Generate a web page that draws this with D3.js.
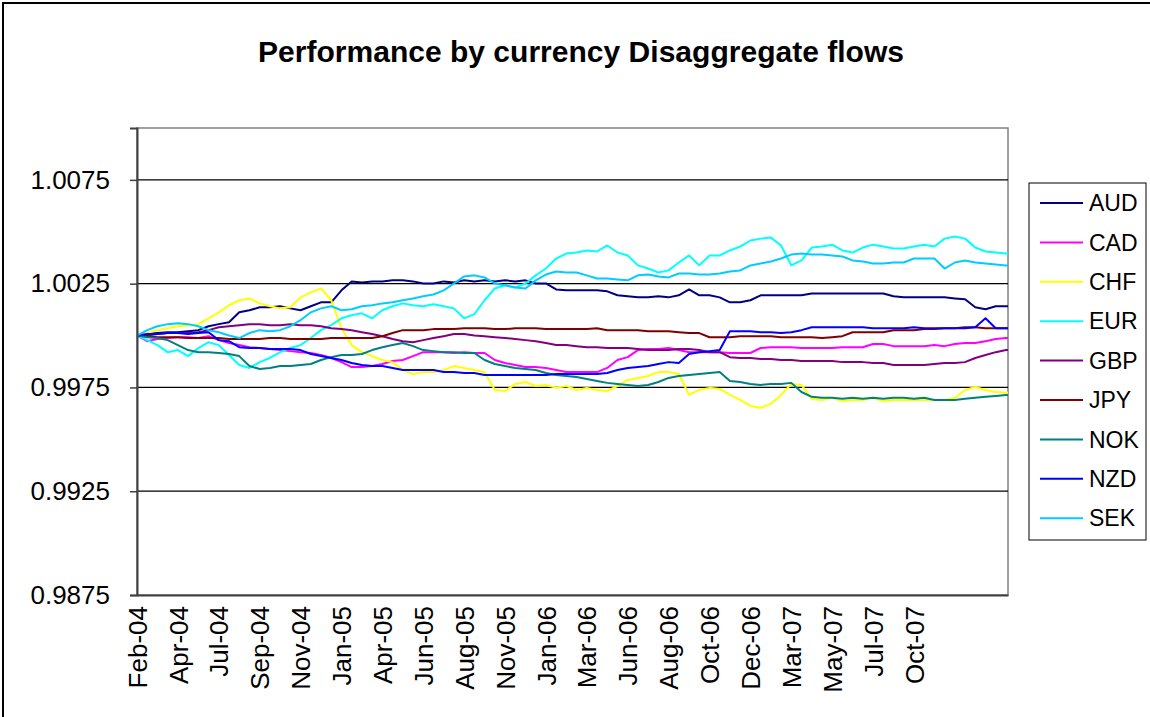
<!DOCTYPE html>
<html>
<head>
<meta charset="utf-8">
<script src="https://cdn.jsdelivr.net/npm/d3@7"></script>
<style>
	body { margin: 0; background: white; }
	text { font-family: "Liberation Sans", Arial, sans-serif; fill: black; }
</style>
</head>
<body>
<div id="plànol"></div>
<script>
var títol = 'Performance by currency Disaggregate flows';
var monedes = ['AUD', 'CAD', 'CHF', 'EUR', 'GBP', 'JPY', 'NOK', 'NZD', 'SEK'];
var colors = ['#000080', '#FF00FF', '#FFFF00', '#00FFFF', '#800080', '#800000', '#008080', '#0000FF', '#00CCFF'];
var etiquetesX = ['Feb-04', 'Apr-04', 'Jul-04', 'Sep-04', 'Nov-04', 'Jan-05', 'Apr-05', 'Jun-05', 'Aug-05', 'Nov-05',
	'Jan-06', 'Mar-06', 'Jun-06', 'Aug-06', 'Oct-06', 'Dec-06', 'Mar-07', 'May-07', 'Jul-07', 'Oct-07'];
var pasEtiqueta = 50; // dies hàbils entre etiquetes
var ticsY = [0.9875, 0.9925, 0.9975, 1.0025, 1.0075];
var recorregutY = [0.9875, 1.0100];
var últimDia = 1065;
var pasMostra = 12.5; // una lectura cada 12,5 dies hàbils, més l'últim dia

var aud = [1.00000, 1.00007, 1.00012, 1.00016, 1.00016, 1.00021, 1.00026, 1.00045, 1.00055, 1.00064,
	1.00112, 1.00122, 1.00136, 1.00136, 1.00141, 1.00131, 1.00122, 1.00141, 1.00160, 1.00160,
	1.00218, 1.00261, 1.00256, 1.00261, 1.00261, 1.00266, 1.00266, 1.00261, 1.00251, 1.00251,
	1.00261, 1.00256, 1.00266, 1.00261, 1.00266, 1.00261, 1.00266, 1.00261, 1.00266, 1.00251,
	1.00251, 1.00222, 1.00218, 1.00218, 1.00218, 1.00218, 1.00213, 1.00194, 1.00189, 1.00184,
	1.00184, 1.00189, 1.00184, 1.00194, 1.00222, 1.00194, 1.00194, 1.00184, 1.00160, 1.00160,
	1.00170, 1.00194, 1.00194, 1.00194, 1.00194, 1.00194, 1.00203, 1.00203, 1.00203, 1.00203,
	1.00203, 1.00203, 1.00203, 1.00203, 1.00189, 1.00184, 1.00184, 1.00184, 1.00184, 1.00184,
	1.00179, 1.00175, 1.00136, 1.00127, 1.00141, 1.00141, 1.00141];
var cad = [1.00000, 0.99973, 0.99983, 0.99988, 0.99992, 0.99992, 0.99988, 0.99997, 0.99978, 0.99964,
	0.99954, 0.99944, 0.99940, 0.99935, 0.99930, 0.99925, 0.99920, 0.99916, 0.99906, 0.99892,
	0.99872, 0.99848, 0.99848, 0.99853, 0.99863, 0.99877, 0.99882, 0.99901, 0.99920, 0.99920,
	0.99920, 0.99916, 0.99920, 0.99916, 0.99916, 0.99882, 0.99868, 0.99858, 0.99848, 0.99848,
	0.99844, 0.99834, 0.99824, 0.99824, 0.99824, 0.99824, 0.99844, 0.99882, 0.99896, 0.99930,
	0.99935, 0.99935, 0.99940, 0.99930, 0.99920, 0.99920, 0.99920, 0.99920, 0.99916, 0.99916,
	0.99916, 0.99940, 0.99944, 0.99944, 0.99944, 0.99940, 0.99940, 0.99940, 0.99940, 0.99944,
	0.99944, 0.99944, 0.99959, 0.99959, 0.99949, 0.99949, 0.99949, 0.99949, 0.99954, 0.99949,
	0.99959, 0.99964, 0.99964, 0.99973, 0.99983, 0.99988, 0.99988];
var chf = [1.00000, 1.00012, 1.00026, 1.00035, 1.00045, 1.00050, 1.00055, 1.00083, 1.00112, 1.00146,
	1.00170, 1.00179, 1.00155, 1.00141, 1.00131, 1.00136, 1.00184, 1.00208, 1.00227, 1.00170,
	1.00035, 0.99954, 0.99920, 0.99901, 0.99882, 0.99872, 0.99834, 0.99815, 0.99824, 0.99824,
	0.99834, 0.99853, 0.99844, 0.99834, 0.99824, 0.99738, 0.99733, 0.99767, 0.99776, 0.99757,
	0.99762, 0.99748, 0.99757, 0.99738, 0.99748, 0.99738, 0.99733, 0.99757, 0.99786, 0.99796,
	0.99805, 0.99824, 0.99824, 0.99815, 0.99714, 0.99738, 0.99748, 0.99743, 0.99714, 0.99690,
	0.99661, 0.99652, 0.99671, 0.99714, 0.99767, 0.99762, 0.99695, 0.99690, 0.99700, 0.99685,
	0.99690, 0.99690, 0.99700, 0.99685, 0.99690, 0.99690, 0.99690, 0.99690, 0.99690, 0.99690,
	0.99700, 0.99738, 0.99752, 0.99738, 0.99728, 0.99724, 0.99724];
var eur = [1.00000, 0.99978, 0.99954, 0.99920, 0.99930, 0.99901, 0.99940, 0.99968, 0.99954, 0.99906,
	0.99858, 0.99844, 0.99872, 0.99892, 0.99920, 0.99940, 0.99954, 0.99988, 1.00026, 1.00050,
	1.00083, 1.00098, 1.00107, 1.00083, 1.00122, 1.00141, 1.00155, 1.00146, 1.00141, 1.00151,
	1.00141, 1.00131, 1.00083, 1.00103, 1.00170, 1.00227, 1.00242, 1.00232, 1.00251, 1.00290,
	1.00323, 1.00371, 1.00395, 1.00400, 1.00410, 1.00405, 1.00434, 1.00400, 1.00386, 1.00338,
	1.00323, 1.00304, 1.00314, 1.00352, 1.00386, 1.00338, 1.00386, 1.00386, 1.00410, 1.00429,
	1.00458, 1.00467, 1.00472, 1.00434, 1.00338, 1.00362, 1.00424, 1.00429, 1.00438, 1.00410,
	1.00400, 1.00424, 1.00438, 1.00429, 1.00419, 1.00419, 1.00429, 1.00438, 1.00429, 1.00467,
	1.00477, 1.00467, 1.00424, 1.00405, 1.00400, 1.00395, 1.00395];
var gbp = [1.00000, 1.00000, 1.00007, 1.00012, 1.00012, 1.00012, 1.00016, 1.00026, 1.00040, 1.00045,
	1.00050, 1.00055, 1.00055, 1.00050, 1.00050, 1.00055, 1.00050, 1.00050, 1.00045, 1.00035,
	1.00031, 1.00026, 1.00016, 1.00007, 0.99997, 0.99983, 0.99973, 0.99968, 0.99978, 0.99988,
	0.99997, 1.00007, 1.00007, 1.00000, 0.99997, 0.99992, 0.99988, 0.99983, 0.99978, 0.99973,
	0.99964, 0.99954, 0.99954, 0.99949, 0.99944, 0.99944, 0.99940, 0.99940, 0.99940, 0.99935,
	0.99930, 0.99930, 0.99930, 0.99935, 0.99935, 0.99930, 0.99920, 0.99920, 0.99896, 0.99892,
	0.99892, 0.99887, 0.99887, 0.99882, 0.99882, 0.99877, 0.99877, 0.99877, 0.99877, 0.99872,
	0.99872, 0.99872, 0.99868, 0.99868, 0.99858, 0.99858, 0.99858, 0.99858, 0.99863, 0.99868,
	0.99868, 0.99872, 0.99892, 0.99906, 0.99920, 0.99930, 0.99930];
var jpy = [1.00000, 0.99997, 0.99992, 0.99992, 0.99992, 0.99988, 0.99988, 0.99988, 0.99988, 0.99983,
	0.99983, 0.99983, 0.99983, 0.99988, 0.99988, 0.99983, 0.99983, 0.99983, 0.99983, 0.99988,
	0.99988, 0.99988, 0.99988, 0.99988, 0.99997, 1.00012, 1.00026, 1.00026, 1.00026, 1.00031,
	1.00031, 1.00031, 1.00035, 1.00035, 1.00035, 1.00031, 1.00031, 1.00035, 1.00035, 1.00035,
	1.00031, 1.00031, 1.00031, 1.00031, 1.00031, 1.00035, 1.00026, 1.00026, 1.00026, 1.00026,
	1.00021, 1.00021, 1.00021, 1.00016, 1.00012, 1.00012, 0.99992, 0.99992, 0.99992, 0.99997,
	0.99997, 0.99997, 0.99997, 0.99992, 0.99992, 0.99992, 0.99992, 0.99988, 0.99992, 0.99997,
	1.00016, 1.00016, 1.00016, 1.00016, 1.00026, 1.00026, 1.00026, 1.00031, 1.00031, 1.00035,
	1.00035, 1.00040, 1.00040, 1.00035, 1.00035, 1.00035, 1.00035];
var nok = [1.00000, 0.99992, 0.99988, 0.99978, 0.99954, 0.99930, 0.99920, 0.99920, 0.99916, 0.99911,
	0.99901, 0.99853, 0.99839, 0.99844, 0.99853, 0.99853, 0.99858, 0.99863, 0.99882, 0.99896,
	0.99906, 0.99906, 0.99911, 0.99930, 0.99944, 0.99954, 0.99964, 0.99949, 0.99930, 0.99925,
	0.99920, 0.99920, 0.99916, 0.99916, 0.99882, 0.99863, 0.99853, 0.99844, 0.99839, 0.99834,
	0.99820, 0.99810, 0.99805, 0.99800, 0.99791, 0.99781, 0.99772, 0.99767, 0.99762, 0.99757,
	0.99762, 0.99776, 0.99796, 0.99805, 0.99810, 0.99815, 0.99820, 0.99824, 0.99781, 0.99776,
	0.99767, 0.99762, 0.99767, 0.99767, 0.99772, 0.99728, 0.99705, 0.99700, 0.99700, 0.99695,
	0.99700, 0.99695, 0.99700, 0.99695, 0.99700, 0.99700, 0.99695, 0.99700, 0.99690, 0.99690,
	0.99690, 0.99695, 0.99700, 0.99705, 0.99709, 0.99714, 0.99714];
var nzd = [1.00000, 1.00007, 1.00007, 1.00012, 1.00012, 1.00007, 1.00012, 1.00016, 0.99978, 0.99973,
	0.99944, 0.99940, 0.99940, 0.99935, 0.99935, 0.99935, 0.99930, 0.99911, 0.99901, 0.99892,
	0.99882, 0.99868, 0.99858, 0.99853, 0.99853, 0.99844, 0.99834, 0.99834, 0.99834, 0.99834,
	0.99824, 0.99824, 0.99820, 0.99820, 0.99810, 0.99810, 0.99810, 0.99810, 0.99810, 0.99810,
	0.99810, 0.99815, 0.99815, 0.99815, 0.99815, 0.99815, 0.99820, 0.99834, 0.99844, 0.99848,
	0.99853, 0.99863, 0.99872, 0.99868, 0.99911, 0.99920, 0.99925, 0.99930, 1.00021, 1.00021,
	1.00021, 1.00016, 1.00016, 1.00012, 1.00016, 1.00026, 1.00040, 1.00040, 1.00040, 1.00040,
	1.00040, 1.00040, 1.00035, 1.00035, 1.00035, 1.00035, 1.00040, 1.00035, 1.00035, 1.00035,
	1.00035, 1.00035, 1.00040, 1.00083, 1.00035, 1.00035, 1.00035];
var sek = [1.00000, 1.00026, 1.00045, 1.00055, 1.00059, 1.00055, 1.00045, 1.00026, 1.00016, 1.00000,
	0.99988, 1.00012, 1.00026, 1.00021, 1.00026, 1.00045, 1.00074, 1.00112, 1.00131, 1.00141,
	1.00122, 1.00127, 1.00141, 1.00146, 1.00155, 1.00160, 1.00170, 1.00179, 1.00189, 1.00198,
	1.00218, 1.00251, 1.00285, 1.00290, 1.00280, 1.00251, 1.00242, 1.00232, 1.00227, 1.00266,
	1.00294, 1.00309, 1.00304, 1.00304, 1.00290, 1.00275, 1.00275, 1.00270, 1.00266, 1.00290,
	1.00294, 1.00285, 1.00280, 1.00299, 1.00299, 1.00294, 1.00294, 1.00299, 1.00309, 1.00314,
	1.00338, 1.00347, 1.00357, 1.00371, 1.00390, 1.00395, 1.00390, 1.00390, 1.00386, 1.00381,
	1.00362, 1.00357, 1.00347, 1.00347, 1.00352, 1.00352, 1.00371, 1.00371, 1.00371, 1.00323,
	1.00352, 1.00362, 1.00352, 1.00347, 1.00342, 1.00338, 1.00338];

var sèries = [aud, cad, chf, eur, gbp, jpy, nok, nzd, sek];
// dia hàbil de cada lectura
var dies = aud.map((_, i) => i < aud.length - 1 ? i * pasMostra : últimDia);

var Amplada = 1150;
var Alçada = 717;
var marge = {dalt: 128, dreta: 142, baix: 122, esquerra: 137};

var plànol = d3.select('#plànol')
	.append('svg')
		.attr('width', Amplada)
		.attr('height', Alçada);

// vora del gràfic
plànol.append('rect')
	.attr('x', 3)
	.attr('y', 3)
	.attr('width', Amplada + 10)
	.attr('height', Alçada + 10)
	.attr('fill', 'white')
	.attr('stroke', 'black')
	.attr('stroke-width', 2);

var fonsX = d3.scaleLinear()
	.domain([0, últimDia])
	.range([marge.esquerra, Amplada - marge.dreta]);
var fonsY = d3.scaleLinear()
	.domain(recorregutY)
	.range([Alçada - marge.baix, marge.dalt]);

plànol.append('text')
	.attr('x', 581)
	.attr('y', 62)
	.attr('text-anchor', 'middle')
	.attr('font-size', 30)
	.attr('font-weight', 'bold')
	.attr('textLength', 646)
	.attr('lengthAdjust', 'spacingAndGlyphs')
	.text(títol);

// marc de l'àrea de dibuix
plànol.append('rect')
	.attr('x', fonsX(0))
	.attr('y', fonsY(recorregutY[1]))
	.attr('width', fonsX(últimDia) - fonsX(0))
	.attr('height', fonsY(recorregutY[0]) - fonsY(recorregutY[1]))
	.attr('fill', 'white')
	.attr('stroke', '#808080')
	.attr('stroke-width', 1.5);

// línies de la graella
plànol.append('g')
	.selectAll('line')
	.data(ticsY.slice(1))
	.enter()
	.append('line')
		.attr('x1', fonsX(0))
		.attr('x2', fonsX(últimDia))
		.attr('y1', d => fonsY(d))
		.attr('y2', d => fonsY(d))
		.attr('stroke', 'black')
		.attr('stroke-width', 1.2);

var línia = d3.line()
	.x((_, i) => fonsX(dies[i]))
	.y(d => fonsY(d));

plànol.append('g')
	.selectAll('path')
	.data(sèries)
	.enter()
	.append('path')
		.attr('d', d => línia(d))
		.attr('fill', 'none')
		.attr('stroke', (_, i) => colors[i])
		.attr('stroke-width', 2)
		.attr('stroke-linejoin', 'round');

// eix Y
var eixY = plànol.append('g')
	.attr('transform', `translate(${fonsX(0)},0)`)
	.call(d3.axisLeft(fonsY)
		.tickValues(ticsY)
		.tickSize(7)
		.tickPadding(20)
		.tickFormat(d3.format('.4f')));
eixY.select('.domain').attr('stroke', '#404040').attr('stroke-width', 2);
eixY.selectAll('.tick line').attr('stroke', '#404040').attr('stroke-width', 1.5);
eixY.selectAll('.tick text')
	.attr('font-size', 26)
	.attr('font-family', '"Liberation Sans", Arial, sans-serif');

// eix X
var eixX = plànol.append('g')
	.attr('transform', `translate(0,${fonsY(recorregutY[0])})`)
	.call(d3.axisBottom(fonsX)
		.tickValues(etiquetesX.map((_, i) => i * pasEtiqueta))
		.tickSize(0)
		.tickSizeOuter(0)
		.tickFormat((_, i) => etiquetesX[i]));
eixX.select('.domain').attr('stroke', '#404040').attr('stroke-width', 2);
eixX.selectAll('.tick text')
	.attr('font-size', 26)
	.attr('font-family', '"Liberation Sans", Arial, sans-serif')
	.attr('text-anchor', 'end')
	.attr('dy', '0.35em')
	.attr('transform', 'translate(0,11) rotate(-90)')
	.attr('x', 0)
	.attr('y', 0);

// llegenda
var llegenda = plànol.append('g');
llegenda.append('rect')
	.attr('x', 1029)
	.attr('y', 183)
	.attr('width', 117)
	.attr('height', 357)
	.attr('fill', 'white')
	.attr('stroke', 'black')
	.attr('stroke-width', 1);
var entrades = llegenda.selectAll('g')
	.data(monedes)
	.enter()
	.append('g')
		.attr('transform', (_, i) => `translate(1040,${203 + i * 39.4})`);
entrades.append('line')
	.attr('x1', 0)
	.attr('x2', 43)
	.attr('stroke', (_, i) => colors[i])
	.attr('stroke-width', 2);
entrades.append('text')
	.attr('x', 49)
	.attr('dy', '0.36em')
	.attr('font-size', 23)
	.text(d => d);
</script>
</body>
</html>
